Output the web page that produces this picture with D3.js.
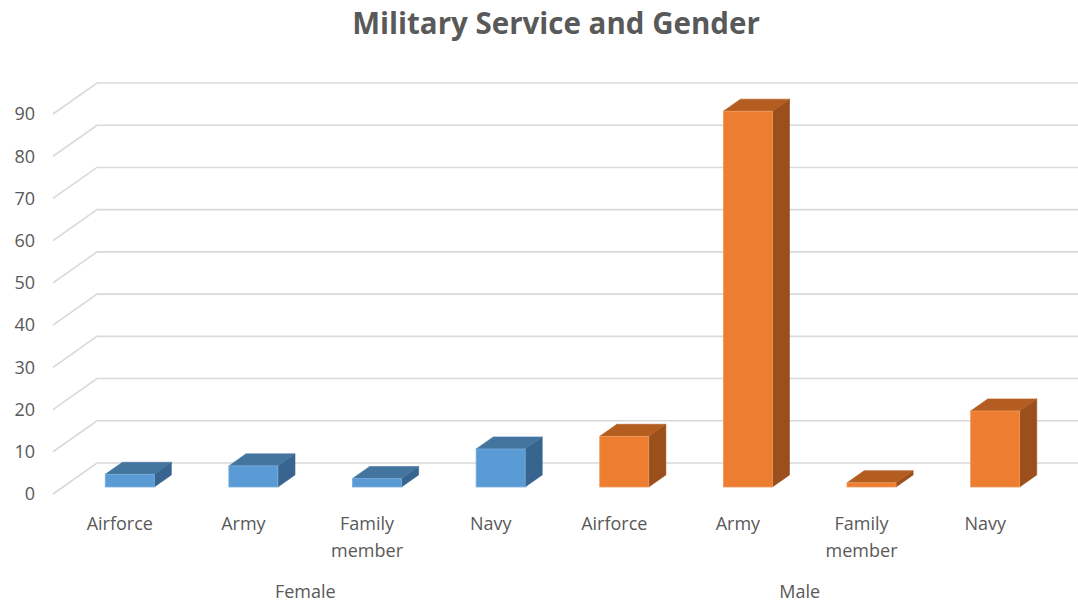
<!DOCTYPE html>
<html>
<head>
<meta charset="utf-8">
<script src="https://cdn.jsdelivr.net/npm/d3@7"></script>
<style>
  html, body { margin: 0; padding: 0; background: #fff; }
  svg { display: block; }
  text { font-family: "Open Sans", "Noto Sans", sans-serif; fill: #595959; }
</style>
</head>
<body>
<svg id="chart" width="1078" height="605"></svg>
<script>
// ---- data ----
const title = "Military Service and Gender";
const groups = ["Female", "Male"];
const services = ["Airforce", "Army", "Family member", "Navy"];
const femaleValues = [3, 5, 2, 9];
const maleValues = [12, 89, 1, 18];
const yTicks = [0, 10, 20, 30, 40, 50, 60, 70, 80, 90];

// ---- layout ----
const W = 1078, H = 605;
const svg = d3.select("#chart");
const DX = 44, DY = 31;          // full depth offset of the oblique projection
const wallLeft = 53;             // front-left x of the side wall
const d1 = 0.226, d2 = 0.615;    // bar front / back depth fractions
const barW = 49;

const rows = [];
groups.forEach((g, gi) => {
  const vals = gi === 0 ? femaleValues : maleValues;
  services.forEach((s, si) => rows.push({ group: g, service: s, value: vals[si], key: g + "|" + s }));
});

const x = d3.scaleBand().domain(rows.map(r => r.key)).range([58, 1047]).padding(0);
const y = d3.scaleLinear().domain([0, 90]).range([494, 114]);

const colors = {
  Female: { front: "#5b9bd5", top: "#44759f", side: "#386590", edge: "#7aaedc" },
  Male:   { front: "#ed7d31", top: "#b45d21", side: "#9a4f1c", edge: "#f09a5e" }
};

// ---- gridlines (side wall diagonals + back wall horizontals) ----
const grid = svg.append("g");
yTicks.forEach(t => {
  const yf = y(t);
  grid.append("path")
    .attr("d", `M${wallLeft},${yf} L${wallLeft + DX},${yf - DY} L${W},${yf - DY}`)
    .attr("fill", "none").attr("stroke", "#d9d9d9").attr("stroke-width", 1.6);
});

// ---- y tick labels ----
svg.append("g").selectAll("text").data(yTicks).join("text")
  .attr("x", 35).attr("y", d => y(d)).attr("dy", "0.35em")
  .attr("text-anchor", "end").style("font-size", "18px")
  .text(d => d);

// ---- bars ----
const bdx = DX * (d2 - d1), bdy = DY * (d2 - d1);
const bars = svg.append("g").selectAll("g").data(rows).join("g");
bars.each(function(r) {
  const gsel = d3.select(this);
  const c = colors[r.group];
  const x0 = x(r.key) + x.bandwidth() / 2 - barW / 2 + DX * d1;
  const x1 = x0 + barW;
  const yt = y(r.value) - DY * d1;
  const yb = y(0) - DY * d1;
  // side face
  gsel.append("polygon")
    .attr("points", [[x1, yt], [x1 + bdx, yt - bdy], [x1 + bdx, yb - bdy], [x1, yb]].join(" "))
    .attr("fill", c.side).attr("stroke", c.side).attr("stroke-width", 0.6);
  // top face
  gsel.append("polygon")
    .attr("points", [[x0, yt], [x1, yt], [x1 + bdx, yt - bdy], [x0 + bdx, yt - bdy]].join(" "))
    .attr("fill", c.top).attr("stroke", c.top).attr("stroke-width", 0.6);
  // front face
  gsel.append("rect")
    .attr("x", x0).attr("y", yt).attr("width", barW).attr("height", Math.max(0, yb - yt))
    .attr("fill", c.front).attr("stroke", c.edge).attr("stroke-width", 0.8);
});

// ---- category labels ----
const cat = svg.append("g").selectAll("text").data(rows).join("text")
  .attr("x", d => x(d.key) + x.bandwidth() / 2)
  .attr("y", 530)
  .attr("text-anchor", "middle").style("font-size", "18px");
cat.each(function(d) {
  const words = d.service.split(" ");
  const t = d3.select(this);
  words.forEach((w, i) => {
    t.append("tspan").attr("x", x(d.key) + x.bandwidth() / 2).attr("dy", i === 0 ? 0 : 27).text(w);
  });
});

// ---- group labels ----
svg.append("g").selectAll("text").data(groups).join("text")
  .attr("x", g => {
    const ks = rows.filter(r => r.group === g).map(r => x(r.key) + x.bandwidth() / 2);
    return d3.mean(ks);
  })
  .attr("y", 598).attr("text-anchor", "middle").style("font-size", "18px")
  .text(g => g);

// ---- title ----
svg.append("text").attr("x", 556).attr("y", 34).attr("text-anchor", "middle")
  .style("font-size", "29.5px").style("font-weight", "bold").text(title);
</script>
</body>
</html>
